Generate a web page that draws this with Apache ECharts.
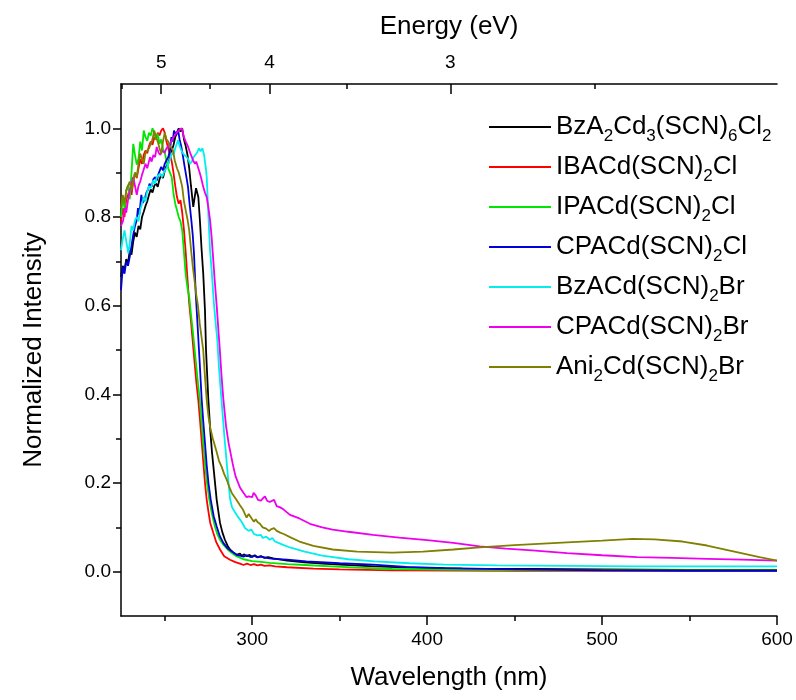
<!DOCTYPE html>
<html>
<head>
<meta charset="utf-8">
<script src="https://cdn.jsdelivr.net/npm/echarts@6/dist/echarts.min.js"></script>
<style>
  html, body { margin: 0; padding: 0; background: #fff; }
  #chart { width: 796px; height: 700px; }
</style>
</head>
<body>
<div id="chart"></div>
<script>
// Normalized absorption spectra, [wavelength (nm), normalized intensity]
const bzA2Cd3SCN6Cl2 = [[225,0.665],[226,0.69],[227,0.68],[228,0.705],[229,0.695],[230,0.725],[231,0.715],[232,0.745],[233,0.765],[234,0.755],[235,0.78],[236,0.772],[237,0.80],[238,0.812],[239,0.825],[240,0.835],[241,0.85],[242,0.862],[243,0.855],[244,0.87],[245,0.876],[246,0.868],[247,0.885],[248,0.895],[249,0.888],[250,0.905],[251,0.915],[252,0.92],[253,0.935],[254,0.95],[255,0.962],[256,0.98],[257,0.99],[258,1.0],[259,0.993],[260,1.0],[261,0.975],[262,0.96],[263,0.94],[264,0.91],[265,0.87],[266.3,0.823],[267.9,0.865],[269.2,0.845],[270.1,0.793],[271.1,0.725],[272,0.673],[273,0.59],[273.6,0.5],[274.9,0.39],[276,0.32],[277,0.27],[278,0.23],[279.7,0.162],[281.6,0.11],[283,0.088],[284.4,0.072],[286,0.058],[287.3,0.05],[289,0.044],[291,0.038],[293,0.041],[294,0.036],[295.5,0.039],[297,0.035],[298.5,0.038],[300,0.033],[301.5,0.037],[303,0.033],[305,0.035],[307,0.031],[309,0.033],[312,0.03],[320,0.025],[330,0.021],[340,0.018],[350,0.016],[370,0.012],[390,0.009],[420,0.007],[460,0.006],[500,0.005],[550,0.004],[600,0.004]];

const ibaCdSCN2Cl = [[225,0.79],[226,0.82],[227,0.80],[228,0.84],[229,0.85],[230,0.862],[231,0.85],[232,0.88],[233,0.90],[234,0.888],[235,0.91],[236,0.93],[237,0.92],[238,0.94],[239,0.95],[240,0.944],[241,0.96],[242,0.97],[243,0.963],[244,0.98],[245,0.975],[246,0.99],[247,0.984],[248,0.995],[249,1.0],[250,0.99],[251,0.97],[252,0.955],[253,0.94],[254,0.925],[255,0.9],[256,0.87],[257,0.845],[258,0.83],[259,0.838],[260,0.81],[261,0.77],[262,0.72],[263,0.66],[264,0.605],[265,0.565],[266,0.52],[267,0.475],[268,0.43],[269.2,0.387],[270,0.35],[271,0.3],[272,0.25],[273,0.2],[274,0.162],[275,0.135],[276,0.11],[277.8,0.087],[279.5,0.066],[281.6,0.05],[284,0.035],[287.3,0.027],[290,0.022],[293,0.018],[295,0.015],[297,0.018],[299,0.015],[301,0.017],[303,0.014],[305,0.016],[307,0.013],[310,0.014],[313,0.012],[320,0.01],[335,0.007],[350,0.005],[380,0.003],[450,0.002],[600,0.002]];

const ipaCdSCN2Cl = [[225,0.80],[226,0.845],[227,0.82],[228,0.86],[229,0.872],[230,0.84],[231,0.90],[232,0.965],[233,0.94],[234,0.918],[235,0.932],[236,0.97],[237,0.95],[238,0.995],[239,0.98],[240,0.972],[241,0.99],[242,0.984],[243,1.0],[244,0.99],[245,0.975],[246,0.988],[247,0.965],[248,0.975],[249,0.955],[250,0.945],[251,0.928],[252,0.91],[253,0.90],[254,0.89],[255,0.853],[256,0.83],[257,0.815],[258,0.80],[259,0.79],[260,0.77],[261,0.72],[262,0.67],[263,0.64],[264,0.62],[265,0.58],[266,0.545],[267,0.505],[268,0.465],[269,0.425],[270,0.39],[271,0.34],[272,0.29],[273,0.245],[274,0.205],[275.5,0.162],[277,0.13],[278.7,0.102],[280,0.085],[281.5,0.072],[283.5,0.061],[286,0.05],[288,0.043],[291,0.035],[295,0.028],[300,0.024],[305,0.022],[310,0.02],[320,0.017],[330,0.015],[345,0.012],[360,0.009],[380,0.006],[420,0.004],[480,0.003],[540,0.003],[600,0.003]];

const cpaCdSCN2Cl = [[225,0.635],[226,0.687],[227,0.672],[228,0.70],[229,0.69],[230,0.71],[231,0.735],[232,0.76],[233,0.78],[234,0.793],[234.7,0.82],[235.5,0.805],[236.6,0.85],[237.5,0.832],[238.5,0.84],[239.5,0.855],[240.5,0.862],[241.3,0.875],[242.5,0.868],[243.5,0.885],[244.5,0.89],[245.5,0.882],[246.5,0.898],[248,0.913],[249,0.905],[250,0.92],[251,0.928],[252,0.935],[253,0.95],[253.8,0.98],[254.5,0.97],[255.3,0.995],[256.6,0.985],[257.6,0.997],[258.5,0.975],[259.5,0.958],[260.5,0.935],[261.4,0.913],[262.4,0.89],[263.3,0.868],[264.2,0.83],[265.2,0.793],[266,0.76],[266.7,0.72],[267.7,0.63],[269,0.54],[270,0.47],[271.1,0.39],[272,0.34],[273,0.29],[274,0.24],[275,0.2],[276.3,0.162],[278,0.125],[279.7,0.102],[281.5,0.08],[283.5,0.065],[286,0.052],[289.2,0.043],[291,0.038],[293,0.036],[295,0.034],[297,0.037],[299,0.033],[301,0.036],[303,0.032],[305,0.034],[308,0.031],[312,0.029],[320,0.027],[331,0.023],[350,0.019],[369,0.016],[388,0.011],[410,0.008],[450,0.005],[500,0.003],[550,0.002],[600,0.002]];

const bzaCdSCN2Br = [[225,0.725],[226,0.75],[227,0.77],[228,0.745],[229.2,0.718],[230,0.74],[231,0.78],[232,0.77],[233,0.793],[234,0.80],[235,0.79],[235.9,0.815],[237,0.83],[238,0.845],[239,0.835],[239.7,0.853],[241,0.87],[242,0.865],[243.5,0.883],[244.5,0.875],[245.5,0.89],[247.3,0.898],[248.5,0.89],[250,0.905],[251,0.91],[252,0.913],[253,0.93],[254,0.945],[255,0.94],[256,0.955],[257.6,0.973],[258.5,0.96],[259.5,0.95],[260.5,0.943],[261.5,0.94],[262.5,0.935],[263.5,0.93],[264.4,0.92],[265.5,0.925],[266.5,0.935],[267.5,0.94],[268.5,0.945],[269.5,0.955],[270.5,0.948],[271.5,0.955],[272.5,0.94],[273.5,0.91],[274,0.89],[275,0.8],[275.9,0.725],[277,0.67],[278,0.61],[279,0.565],[280,0.525],[281,0.46],[282,0.41],[283,0.36],[284,0.31],[285,0.265],[286,0.22],[287.3,0.165],[288.5,0.145],[290,0.135],[292,0.123],[294,0.112],[296,0.098],[298,0.092],[299.5,0.095],[301,0.085],[303,0.082],[305,0.083],[306,0.076],[308,0.079],[310,0.072],[311.5,0.076],[313,0.068],[315,0.065],[318,0.06],[322,0.054],[330,0.045],[340,0.036],[355,0.028],[370,0.023],[390,0.019],[410,0.016],[440,0.014],[480,0.013],[520,0.012],[560,0.012],[600,0.012]];

const cpaCdSCN2Br = [[225,0.78],[226.3,0.793],[227,0.82],[228,0.81],[229,0.838],[230,0.86],[231,0.875],[232,0.89],[233,0.87],[234,0.85],[235,0.87],[236,0.88],[237,0.895],[237.8,0.905],[239,0.92],[240,0.91],[241.6,0.935],[242.5,0.925],[243.5,0.94],[244.5,0.935],[245.4,0.958],[246.5,0.945],[247.5,0.94],[248.5,0.95],[250,0.945],[251,0.955],[252,0.96],[253,0.966],[254,0.97],[255,0.98],[256.8,0.99],[258,0.995],[259.7,1.0],[261,0.98],[262,0.97],[263.4,0.958],[264.5,0.945],[265.5,0.935],[266.5,0.925],[267.3,0.92],[268,0.925],[269,0.928],[270,0.9],[271,0.885],[272,0.868],[273,0.855],[274,0.845],[275,0.82],[276,0.79],[276.8,0.755],[277.8,0.7],[278.7,0.65],[279.7,0.6],[280.5,0.555],[281.5,0.5],[282.5,0.44],[283.5,0.39],[285,0.33],[286.5,0.29],[288,0.26],[289.2,0.237],[290.5,0.215],[292,0.2],[293,0.19],[295,0.178],[296.8,0.168],[298,0.17],[299,0.172],[300,0.168],[300.8,0.178],[302,0.172],[303.3,0.162],[305,0.16],[306,0.165],[307.3,0.17],[308.5,0.16],[310,0.157],[311,0.155],[312.5,0.162],[314,0.148],[316,0.145],[318,0.14],[321.6,0.128],[327,0.12],[333,0.108],[340,0.1],[346,0.095],[355,0.09],[369,0.083],[384,0.077],[400,0.071],[415,0.065],[430,0.057],[445,0.052],[460,0.048],[480,0.042],[500,0.037],[520,0.033],[540,0.031],[560,0.029],[580,0.027],[600,0.025]];

const ani2CdSCN2Br = [[225,0.82],[226,0.85],[227,0.83],[228,0.86],[229,0.87],[230,0.88],[231,0.86],[232,0.88],[233,0.90],[234,0.89],[235,0.92],[236,0.943],[237,0.93],[238,0.92],[239,0.945],[240,0.95],[241,0.955],[242,0.965],[243,0.975],[244,0.995],[245,0.98],[246,0.97],[247,0.955],[248,0.943],[249,0.97],[250,0.99],[251,0.975],[252,0.97],[253,0.96],[254,0.955],[254.7,0.95],[255.7,0.928],[257,0.91],[258,0.9],[259,0.885],[260,0.868],[261,0.835],[262,0.815],[263,0.795],[264,0.77],[265.2,0.72],[266,0.69],[267.1,0.655],[268,0.625],[269,0.6],[270,0.56],[271,0.53],[272,0.5],[273,0.44],[274,0.387],[275,0.35],[276,0.325],[277.5,0.3],[279.7,0.27],[281,0.25],[282.5,0.237],[284,0.22],[285.5,0.207],[287,0.19],[288.4,0.177],[290,0.168],[291,0.162],[293,0.15],[294.7,0.14],[296.8,0.122],[298,0.13],[299,0.128],[300,0.118],[301,0.113],[302,0.118],[303,0.112],[304.4,0.108],[306,0.1],[308,0.097],[309.5,0.092],[311,0.096],[312.5,0.098],[314,0.092],[316,0.088],[318,0.085],[321.6,0.078],[327,0.068],[335,0.058],[346,0.05],[360,0.045],[380,0.043],[397.6,0.045],[415,0.05],[430,0.055],[450,0.06],[480,0.066],[500,0.07],[517.6,0.074],[530,0.073],[546,0.068],[560,0.059],[575,0.046],[590,0.033],[600,0.025]];

const seriesNames = ['BzA2Cd3(SCN)6Cl2', 'IBACd(SCN)2Cl', 'IPACd(SCN)2Cl', 'CPACd(SCN)2Cl', 'BzACd(SCN)2Br', 'CPACd(SCN)2Br', 'Ani2Cd(SCN)2Br'];
const seriesData = [bzA2Cd3SCN6Cl2, ibaCdSCN2Cl, ipaCdSCN2Cl, cpaCdSCN2Cl, bzaCdSCN2Br, cpaCdSCN2Br, ani2CdSCN2Br];
const seriesColors = ['#000000', '#ff0000', '#00e600', '#0000d8', '#00eeee', '#ee00ee', '#808000'];

// Axis ticks
const wavelengthMajor = [300, 400, 500, 600];
const wavelengthMinor = [250, 350, 450, 550];
const energyMajor = [5, 4, 3];
const energyMinor = [5.5, 4.5, 3.5, 2.5];
const intensityMajor = [0, 0.2, 0.4, 0.6, 0.8, 1.0];
const intensityMinor = [0.1, 0.3, 0.5, 0.7, 0.9];

const HC = 1239.84; // eV·nm, photon energy <-> wavelength
const toWavelength = e => HC / e;

const FONT = '"Liberation Sans", Arial, Helvetica, sans-serif';
const black = '#000';
const axisLine = { show: true, onZero: false, lineStyle: { color: black, width: 1.5 } };
const noLine = { show: false, onZero: false };
const tickStyle = { color: black, width: 1.5 };

// chemical formulae: every digit is a subscript
function formula(name) {
  return name.split(/(\d)/).filter(s => s.length).map(s => /\d/.test(s) ? '{s|' + s + '}' : '{m|' + s + '}').join('');
}

const chart = echarts.init(document.getElementById('chart'), null, { renderer: 'canvas' });

const wlRange = { min: 225, max: 600 };
const yRange = { min: -0.1, max: 1.1 };

chart.setOption({
  animation: false,
  backgroundColor: '#fff',
  color: seriesColors,
  textStyle: { fontFamily: FONT, color: black },
  grid: { left: 121, right: 19, top: 84, bottom: 84, containLabel: false, outerBoundsMode: 'none' },
  legend: {
    orient: 'vertical',
    left: 484,
    top: 104,
    itemWidth: 62,
    itemHeight: 2,
    itemGap: 4,
    icon: 'rect',
    selectedMode: false,
    data: seriesNames,
    formatter: formula,
    textStyle: {
      fontFamily: FONT,
      color: black,
      fontSize: 26,
      lineHeight: 36,
      rich: {
        m: { fontFamily: FONT, fontSize: 26, lineHeight: 36, color: black },
        s: { fontFamily: FONT, fontSize: 17, lineHeight: 16, verticalAlign: 'bottom', color: black }
      }
    }
  },
  xAxis: [
    {
      type: 'value', position: 'bottom', ...wlRange,
      axisLine: axisLine,
      axisTick: { show: true, customValues: wavelengthMajor, length: 9, lineStyle: tickStyle },
      axisLabel: { customValues: wavelengthMajor, fontSize: 19, margin: 14, color: black, fontFamily: FONT },
      splitLine: { show: false },
      name: 'Wavelength (nm)', nameLocation: 'middle', nameGap: 49,
      nameTextStyle: { fontSize: 26, color: black, fontFamily: FONT }
    },
    {
      type: 'value', position: 'bottom', ...wlRange,
      axisLine: noLine,
      axisTick: { show: true, customValues: wavelengthMinor, length: 5, lineStyle: tickStyle },
      axisLabel: { show: false },
      splitLine: { show: false }
    },
    {
      type: 'value', position: 'top', ...wlRange,
      axisLine: axisLine,
      axisTick: { show: true, inside: true, customValues: energyMajor.map(toWavelength), length: 10, lineStyle: tickStyle },
      axisLabel: {
        customValues: energyMajor.map(toWavelength), fontSize: 19, margin: 12, color: black, fontFamily: FONT,
        formatter: v => String(Math.round(HC / v))
      },
      splitLine: { show: false },
      name: 'Energy (eV)', nameLocation: 'middle', nameGap: 44,
      nameTextStyle: { fontSize: 26, color: black, fontFamily: FONT }
    },
    {
      type: 'value', position: 'top', ...wlRange,
      axisLine: noLine,
      axisTick: { show: true, inside: true, customValues: energyMinor.map(toWavelength), length: 5, lineStyle: tickStyle },
      axisLabel: { show: false },
      splitLine: { show: false }
    }
  ],
  yAxis: [
    {
      type: 'value', position: 'left', ...yRange,
      axisLine: axisLine,
      axisTick: { show: true, customValues: intensityMajor, length: 8, lineStyle: tickStyle },
      axisLabel: { customValues: intensityMajor, fontSize: 19, margin: 10, color: black, fontFamily: FONT, formatter: v => v.toFixed(1) },
      splitLine: { show: false },
      name: 'Normalized Intensity', nameLocation: 'middle', nameGap: 74, nameRotate: 90,
      nameTextStyle: { fontSize: 26, color: black, fontFamily: FONT }
    },
    {
      type: 'value', position: 'left', ...yRange,
      axisLine: noLine,
      axisTick: { show: true, customValues: intensityMinor, length: 5, lineStyle: tickStyle },
      axisLabel: { show: false },
      splitLine: { show: false }
    }
  ],
  series: seriesNames.map((name, i) => ({
    name: name,
    type: 'line',
    xAxisIndex: 0,
    yAxisIndex: 0,
    data: seriesData[i],
    symbol: 'none',
    showSymbol: false,
    lineStyle: { color: seriesColors[i], width: 1.8 },
    itemStyle: { color: seriesColors[i] },
    emphasis: { disabled: true }
  }))
});
</script>
</body>
</html>
